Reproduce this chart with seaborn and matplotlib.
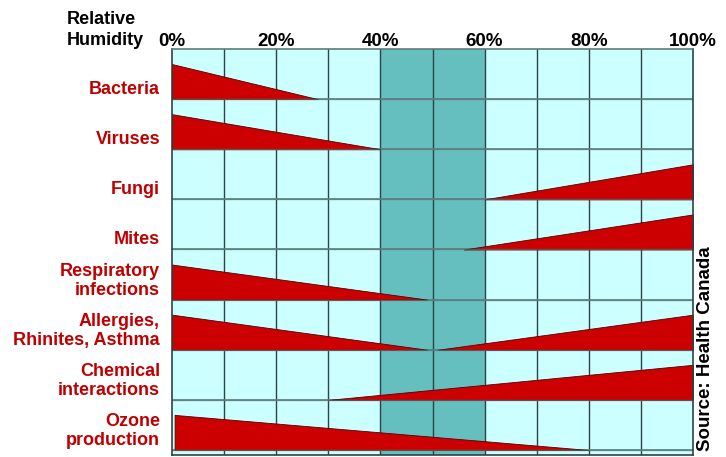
import matplotlib
matplotlib.use("Agg")
import matplotlib.pyplot as plt
import matplotlib.transforms as mtransforms
import numpy as np
import pandas as pd
import seaborn as sns

# Health risks plotted against relative humidity (one row each, top to bottom)
risks = [
    "Bacteria",
    "Viruses",
    "Fungi",
    "Mites",
    "Respiratory\ninfections",
    "Allergies,\nRhinites, Asthma",
    "Chemical\ninteractions",
    "Ozone\nproduction",
]

# Each wedge: the row it belongs to, the humidity where the risk is highest
# and the humidity where it fades out to nothing
wedge_risk = [
    "Bacteria",
    "Viruses",
    "Fungi",
    "Mites",
    "Respiratory\ninfections",
    "Allergies,\nRhinites, Asthma",
    "Allergies,\nRhinites, Asthma",
    "Chemical\ninteractions",
    "Ozone\nproduction",
]
wedge_peak_rh = [0, 0, 100, 100, 0, 0, 100, 100, 0.5]
wedge_zero_rh = [28, 40, 60, 56, 49, 49, 51, 30, 80]

# Optimum humidity zone
optimum_rh = [40, 60]

tick_values = [0, 20, 40, 60, 80, 100]
tick_labels = ["0%", "20%", "40%", "60%", "80%", "100%"]

wedges = pd.DataFrame({"risk": wedge_risk, "peak": wedge_peak_rh, "zero": wedge_zero_rh})
wedges["row"] = wedges["risk"].map({r: i for i, r in enumerate(risks)})

sns.set_theme(style="white")
plt.rcParams["font.family"] = ["Liberation Sans", "DejaVu Sans"]
plt.rcParams["font.weight"] = "bold"

RED = "#cc0000"
LABEL_RED = "#c00000"
CYAN = "#ccffff"
TEAL = "#66bfbf"
GRID_V = "#2b4444"
GRID_H = "#5c7b7b"

W, H = 726, 457
fig = plt.figure(figsize=(W / 100, H / 100), dpi=100)
fig.patch.set_facecolor("white")
ax = fig.add_axes([172 / W, 1 - 455 / H, (693 - 172) / W, (455 - 49) / H])
ax.set_facecolor(CYAN)

n = len(risks)
ax.set_xlim(0, 100)
ax.set_ylim(n + 0.1, 0)

# optimum zone
ax.axvspan(optimum_rh[0], optimum_rh[1], color=TEAL, zorder=0.5, lw=0)

# grid: every 10 % across, one band per risk down
for xv in np.arange(10, 100, 10):
    ax.axvline(xv, color=GRID_V, lw=1.0, zorder=1)
for yv in range(1, n + 1):
    ax.axhline(yv, color=GRID_H, lw=1.2, zorder=1)

# wedges: tall edge at the peak humidity, tapering to the zero point
wedge_h = 0.7
for _, w in wedges.iterrows():
    base = w["row"] + 1
    xs = [w["peak"], w["zero"]]
    tops = [base - wedge_h, base]
    ax.fill_between(xs, tops, [base, base], color=RED, lw=0.6,
                    edgecolor="#550000", zorder=2)

for yv in range(1, n + 1):
    ax.axhline(yv, color=GRID_H, lw=1.0, zorder=2.5, alpha=0.6)

# humidity scale along the top
ax.xaxis.tick_top()
ax.set_xticks(tick_values)
ax.set_xticklabels(tick_labels, fontsize=13.5, fontweight="bold", color="black")
ax.tick_params(axis="x", length=0, pad=-1)
ax.set_yticks([])

for side in ["left", "right", "bottom"]:
    ax.spines[side].set_color(GRID_V)
    ax.spines[side].set_linewidth(1.2)
ax.spines["top"].set_color(GRID_H)
ax.spines["top"].set_linewidth(1.2)

# risk names to the left of each row
trans = mtransforms.blended_transform_factory(ax.transAxes, ax.transData)
for i, name in enumerate(risks):
    ax.text(-12 / (693 - 172), i + 0.98, name, transform=trans,
            ha="right", va="bottom", fontsize=13, fontweight="bold",
            color=LABEL_RED, linespacing=1.15)

fig.text(67 / W, 1 - 45 / H, "Relative\nHumidity", ha="left", va="baseline",
         fontsize=13, fontweight="bold", color="black", linespacing=1.3)

fig.text(706 / W, 1 - 451 / H, "Source: Health Canada", rotation=90,
         ha="center", va="bottom", fontsize=13.5, fontweight="bold", color="black")

fig.savefig("out.png", dpi=100, facecolor="white")
